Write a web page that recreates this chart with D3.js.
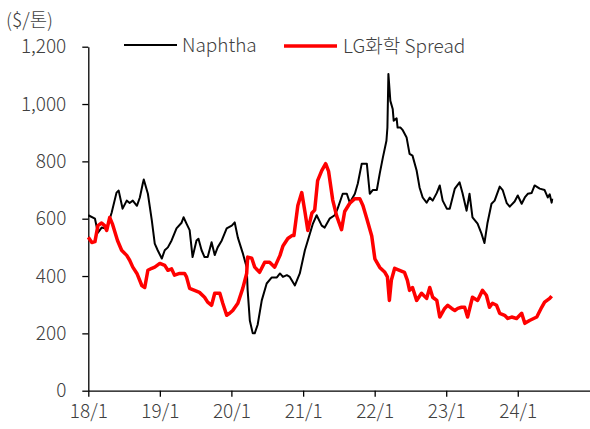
<!DOCTYPE html>
<html>
<head>
<meta charset="utf-8">
<script src="https://cdn.jsdelivr.net/npm/d3@7"></script>
<style>
  body { margin: 0; background: #fff; }
  svg text { font-family: "Noto Sans CJK KR", "Noto Sans", sans-serif; font-weight: 300; fill: #404040; }
</style>
</head>
<body>
<div id="chart"></div>
<script>
// Naphtha price ($/ton)
var naphtha = [
  ["2018-01-01", 612], ["2018-02-04", 600], ["2018-02-19", 551], ["2018-03-10", 569], ["2018-04-05", 565],
  ["2018-04-30", 621], ["2018-05-25", 691], ["2018-06-05", 698], ["2018-06-25", 635], ["2018-07-16", 663],
  ["2018-07-31", 655], ["2018-08-16", 663], ["2018-09-06", 645], ["2018-09-21", 674], ["2018-10-06", 723],
  ["2018-10-11", 737], ["2018-11-01", 687], ["2018-11-21", 594], ["2018-12-06", 513], ["2018-12-21", 490],
  ["2019-01-11", 461], ["2019-01-26", 490], ["2019-02-11", 500], ["2019-03-02", 524], ["2019-03-27", 566],
  ["2019-04-22", 586], ["2019-05-02", 605], ["2019-05-17", 583], ["2019-06-02", 560], ["2019-06-17", 466],
  ["2019-07-07", 524], ["2019-07-17", 530], ["2019-08-02", 490], ["2019-08-17", 466], ["2019-09-02", 466],
  ["2019-09-22", 518], ["2019-10-08", 473], ["2019-10-23", 500], ["2019-11-13", 524], ["2019-12-08", 566],
  ["2020-01-03", 576], ["2020-01-18", 587], ["2020-02-03", 534], ["2020-02-28", 480], ["2020-03-19", 431],
  ["2020-03-24", 350], ["2020-04-04", 245], ["2020-04-19", 200], ["2020-04-29", 200], ["2020-05-14", 230],
  ["2020-06-04", 315], ["2020-06-29", 374], ["2020-07-25", 395], ["2020-08-20", 395], ["2020-09-05", 409],
  ["2020-09-20", 397], ["2020-10-10", 403], ["2020-10-25", 397], ["2020-11-20", 367], ["2020-12-15", 409],
  ["2021-01-10", 490], ["2021-01-25", 524], ["2021-02-20", 583], ["2021-03-11", 612], ["2021-04-06", 576],
  ["2021-04-21", 569], ["2021-05-16", 600], ["2021-06-11", 612], ["2021-06-26", 635], ["2021-07-22", 687],
  ["2021-08-12", 687], ["2021-08-27", 656], ["2021-09-22", 687], ["2021-10-07", 723], ["2021-10-27", 792],
  ["2021-11-22", 792], ["2021-12-07", 687], ["2021-12-22", 700], ["2022-01-12", 700], ["2022-01-27", 758],
  ["2022-02-12", 814], ["2022-03-02", 872], ["2022-03-07", 918], ["2022-03-12", 1105], ["2022-03-22", 1011],
  ["2022-04-03", 983], ["2022-04-08", 942], ["2022-04-23", 950], ["2022-04-28", 918], ["2022-05-13", 918],
  ["2022-05-23", 910], ["2022-06-13", 883], ["2022-06-28", 826], ["2022-07-13", 820], ["2022-08-03", 768],
  ["2022-08-18", 709], ["2022-09-03", 674], ["2022-09-23", 656], ["2022-10-09", 674], ["2022-10-24", 663],
  ["2022-11-14", 690], ["2022-11-29", 716], ["2022-12-14", 663], ["2023-01-04", 635], ["2023-01-19", 635],
  ["2023-02-14", 705], ["2023-03-10", 727], ["2023-03-25", 690], ["2023-04-15", 628], ["2023-04-30", 687],
  ["2023-05-15", 605], ["2023-06-10", 583], ["2023-06-30", 548], ["2023-07-15", 515], ["2023-07-30", 583],
  ["2023-08-20", 652], ["2023-09-05", 663], ["2023-10-01", 712], ["2023-10-16", 700], ["2023-11-06", 654],
  ["2023-11-21", 642], ["2023-12-16", 660], ["2024-01-01", 681], ["2024-01-21", 652], ["2024-02-06", 674],
  ["2024-02-21", 687], ["2024-03-12", 690], ["2024-03-27", 716], ["2024-04-22", 705], ["2024-05-17", 700],
  ["2024-06-02", 674], ["2024-06-12", 685], ["2024-06-22", 656], ["2024-06-25", 670]
];

// LG Chem spread ($/ton)
var spread = [
  ["2018-01-01", 535], ["2018-01-19", 517], ["2018-02-04", 520], ["2018-02-19", 576], ["2018-03-10", 585],
  ["2018-03-25", 576], ["2018-04-05", 559], ["2018-04-20", 604], ["2018-05-05", 580], ["2018-05-30", 524],
  ["2018-06-20", 490], ["2018-07-16", 472], ["2018-07-31", 455], ["2018-08-16", 431], ["2018-09-06", 409],
  ["2018-10-01", 367], ["2018-10-16", 360], ["2018-11-01", 420], ["2018-11-21", 427], ["2018-12-06", 431],
  ["2019-01-01", 444], ["2019-01-26", 437], ["2019-02-11", 420], ["2019-03-02", 425], ["2019-03-17", 403],
  ["2019-04-12", 409], ["2019-05-07", 409], ["2019-05-17", 397], ["2019-06-02", 357], ["2019-06-27", 350],
  ["2019-07-22", 343], ["2019-08-17", 326], ["2019-09-02", 309], ["2019-09-22", 298], ["2019-10-08", 340],
  ["2019-11-03", 340], ["2019-11-18", 305], ["2019-12-08", 263], ["2019-12-23", 270], ["2020-01-08", 280],
  ["2020-02-03", 305], ["2020-02-28", 357], ["2020-03-19", 409], ["2020-03-24", 466], ["2020-04-14", 462],
  ["2020-04-29", 431], ["2020-05-24", 413], ["2020-06-19", 448], ["2020-07-14", 448], ["2020-08-09", 431],
  ["2020-09-05", 472], ["2020-09-20", 505], ["2020-10-15", 531], ["2020-11-05", 541], ["2020-11-15", 541],
  ["2020-12-05", 646], ["2020-12-25", 691], ["2021-01-10", 625], ["2021-01-25", 559], ["2021-02-15", 620],
  ["2021-03-01", 630], ["2021-03-16", 733], ["2021-04-06", 768], ["2021-04-26", 792], ["2021-05-11", 765],
  ["2021-06-01", 665], ["2021-06-21", 610], ["2021-07-16", 562], ["2021-08-01", 625], ["2021-08-27", 654],
  ["2021-09-22", 670], ["2021-10-17", 670], ["2021-11-02", 646], ["2021-11-22", 600], ["2021-12-17", 540],
  ["2022-01-02", 460], ["2022-01-27", 430], ["2022-02-22", 413], ["2022-03-07", 397], ["2022-03-17", 315],
  ["2022-03-27", 385], ["2022-04-13", 427], ["2022-05-08", 420], ["2022-06-02", 413], ["2022-06-17", 385],
  ["2022-06-28", 350], ["2022-07-13", 360], ["2022-08-03", 315], ["2022-08-28", 340], ["2022-09-23", 322],
  ["2022-10-09", 360], ["2022-10-24", 326], ["2022-11-14", 315], ["2022-11-29", 257], ["2022-12-24", 287],
  ["2023-01-09", 298], ["2023-01-29", 287], ["2023-02-14", 280], ["2023-03-01", 287], ["2023-03-20", 291],
  ["2023-04-05", 291], ["2023-04-20", 257], ["2023-05-15", 326], ["2023-06-10", 315], ["2023-07-05", 350],
  ["2023-07-25", 333], ["2023-08-10", 291], ["2023-08-25", 305], ["2023-09-15", 298], ["2023-10-01", 270],
  ["2023-10-26", 263], ["2023-11-11", 252], ["2023-12-01", 257], ["2023-12-26", 252], ["2024-01-21", 270],
  ["2024-02-06", 235], ["2024-03-01", 245], ["2024-04-07", 257], ["2024-05-02", 291], ["2024-05-17", 309],
  ["2024-06-12", 322], ["2024-06-22", 330]
];

var yTicks = [0, 200, 400, 600, 800, 1000, 1200];
var xTickYears = [2018, 2019, 2020, 2021, 2022, 2023, 2024];
var seriesNames = ["Naphtha", "LG화학 Spread"];
var unitLabel = "($/톤)";

var width = 590, height = 429;
var margin = {top: 46.7, right: 0.5, bottom: 38.3, left: 88.3};

var parse = d3.timeParse("%Y-%m-%d");

var svg = d3.select("#chart").append("svg")
    .attr("width", width)
    .attr("height", height);

var x = d3.scaleTime()
    .domain([new Date(2018, 0, 1), new Date(2025, 0, 1)])
    .range([margin.left, width - margin.right]);

var y = d3.scaleLinear()
    .domain([0, 1200])
    .range([height - margin.bottom, margin.top]);

// y axis
var yAxis = d3.axisLeft(y)
    .tickValues(yTicks)
    .tickFormat(d3.format(","))
    .tickSize(6)
    .tickSizeOuter(0)
    .tickPadding(16);

var gy = svg.append("g")
    .attr("transform", "translate(" + margin.left + ",0)")
    .call(yAxis);

// x axis
var xAxis = d3.axisBottom(x)
    .tickValues(xTickYears.map(function(yr) { return new Date(yr, 0, 1); }))
    .tickFormat(function(d) { return String(d.getFullYear()).slice(2) + "/1"; })
    .tickSize(6)
    .tickSizeOuter(0)
    .tickPadding(8);

var gx = svg.append("g")
    .attr("transform", "translate(0," + (height - margin.bottom) + ")")
    .call(xAxis);

[gx, gy].forEach(function(g) {
  g.select(".domain").attr("stroke", "#000").attr("stroke-width", 1.3);
  g.selectAll(".tick line").attr("stroke", "#000").attr("stroke-width", 1.3);
  g.selectAll(".tick text")
    .attr("font-size", 19)
    .attr("fill", "#404040")
    .style("font-family", "'Noto Sans CJK KR', 'Noto Sans', sans-serif")
    .style("font-weight", 300);
});

svg.append("text")
    .attr("x", 6)
    .attr("y", 20)
    .attr("dy", "0.35em")
    .attr("font-size", 19)
    .text(unitLabel);

var line = d3.line()
    .x(function(d) { return x(parse(d[0])); })
    .y(function(d) { return y(d[1]); });

svg.append("path")
    .datum(naphtha)
    .attr("fill", "none")
    .attr("stroke", "#000")
    .attr("stroke-width", 2)
    .attr("stroke-linejoin", "round")
    .attr("d", line);

svg.append("path")
    .datum(spread)
    .attr("fill", "none")
    .attr("stroke", "#ff0000")
    .attr("stroke-width", 3.5)
    .attr("stroke-linejoin", "round")
    .attr("d", line);

// legend
var legend = [
  {name: seriesNames[0], color: "#000", w: 2, x1: 124, x2: 177, tx: 182, ly: 45},
  {name: seriesNames[1], color: "#ff0000", w: 3.5, x1: 284, x2: 337, tx: 343, ly: 46}
];

legend.forEach(function(l) {
  svg.append("line")
      .attr("x1", l.x1).attr("x2", l.x2)
      .attr("y1", l.ly).attr("y2", l.ly)
      .attr("stroke", l.color)
      .attr("stroke-width", l.w);
  svg.append("text")
      .attr("x", l.tx)
      .attr("y", l.ly)
      .attr("dy", "0.35em")
      .attr("font-size", 19)
      .text(l.name);
});
</script>
</body>
</html>
